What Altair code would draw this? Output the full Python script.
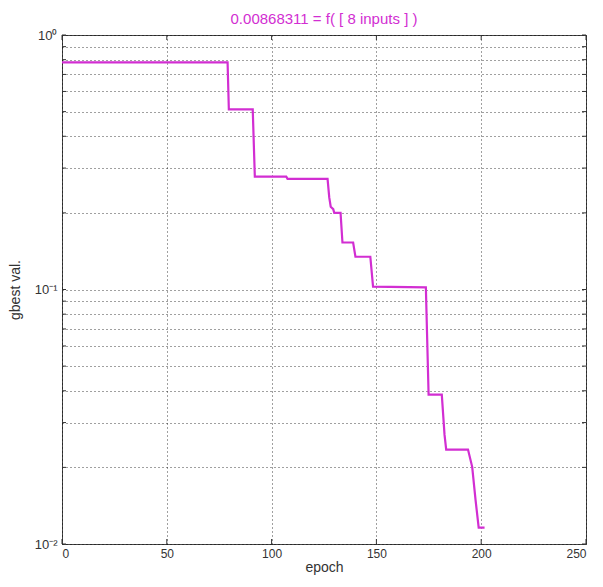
import altair as alt
import pandas as pd

# vertices of the gbest curve
epoch = [0, 79, 79.6, 91, 92, 107, 107.6, 126.7, 127.5, 128.2, 129.4, 129.9, 132.9, 133.8,
         138.9, 140, 147.1, 148.4, 173.6, 174.9, 181.2, 182.5, 183.3, 193.7, 195.7, 197.3,
         198.8, 201.6]
gbest = [0.78, 0.78, 0.51, 0.51, 0.2775, 0.2775, 0.272, 0.272, 0.23, 0.2115, 0.207, 0.2,
         0.2, 0.153, 0.153, 0.1345, 0.1345, 0.1026, 0.102, 0.0386, 0.0386, 0.0269, 0.0235,
         0.0235, 0.0201, 0.0149, 0.0116, 0.0116]

x_ticks = [0, 50, 100, 150, 200, 250]
y_ticks = [0.01, 0.02, 0.03, 0.04, 0.05, 0.06, 0.07, 0.08, 0.09,
           0.1, 0.2, 0.3, 0.4, 0.5, 0.6, 0.7, 0.8, 0.9, 1.0]
title_text = "0.00868311 = f( [ 8 inputs ] )"

W, H = 524, 509
FONT = "Liberation Sans"
MAG = "#d22ed2"

df = pd.DataFrame({"epoch": epoch, "val": gbest})
xt = pd.DataFrame({"epoch": x_ticks})
yt = pd.DataFrame({"val": y_ticks})

xscale = alt.Scale(domain=[0, 250], nice=False, zero=False)
yscale = alt.Scale(type="log", domain=[0.01, 1], nice=False)

label_expr = ("datum.value == 1 ? '10⁰' : (abs(datum.value - 0.1) < 1e-9 ? '10⁻¹' : "
              "(abs(datum.value - 0.01) < 1e-12 ? '10⁻²' : ''))")

line = alt.Chart(df).mark_line(color=MAG, strokeWidth=2.2).encode(
    x=alt.X("epoch:Q", scale=xscale,
            axis=alt.Axis(values=x_ticks, title="epoch", grid=True, ticks=False,
                          domain=False, labelOverlap=False)),
    y=alt.Y("val:Q", scale=yscale,
            axis=alt.Axis(values=y_ticks, title="gbest val.", grid=True, ticks=False,
                          domain=False, labelExpr=label_expr, labelOverlap=False,
                          labelFontSize=13)),
)

tick_style = dict(color="#333", strokeWidth=1)
xt_bot = alt.Chart(xt).mark_rule(**tick_style).encode(
    x=alt.X("epoch:Q", scale=xscale), y=alt.value(H), y2=alt.value(H - 5))
xt_top = alt.Chart(xt).mark_rule(**tick_style).encode(
    x=alt.X("epoch:Q", scale=xscale), y=alt.value(0), y2=alt.value(5))
yt_left = alt.Chart(yt).mark_rule(**tick_style).encode(
    y=alt.Y("val:Q", scale=yscale), x=alt.value(0), x2=alt.value(4))
yt_right = alt.Chart(yt).mark_rule(**tick_style).encode(
    y=alt.Y("val:Q", scale=yscale), x=alt.value(W), x2=alt.value(W - 4))

chart = alt.layer(line, xt_bot, xt_top, yt_left, yt_right).properties(
    width=W, height=H,
    background="white",
    title=alt.TitleParams(title_text, color=MAG, font=FONT, fontSize=15,
                          fontWeight="normal", offset=2),
    autosize=alt.AutoSizeParams(type="none"),
    padding={"left": 54, "top": 27, "right": 9, "bottom": 35},
).configure_view(
    stroke="#444", strokeWidth=1
).configure_axis(
    gridColor="#000", gridDash=[1, 3], gridOpacity=0.75, gridWidth=1,
    labelFont=FONT, labelFontSize=12, labelColor="#333",
    titleFont=FONT, titleFontSize=14, titleFontWeight="normal", titleColor="#333",
).configure_axisX(
    labelPadding=4, titlePadding=1
).configure_axisY(
    labelPadding=5, titlePadding=12
)

chart.save("out.html", embed_options={"renderer": "svg", "actions": False})
